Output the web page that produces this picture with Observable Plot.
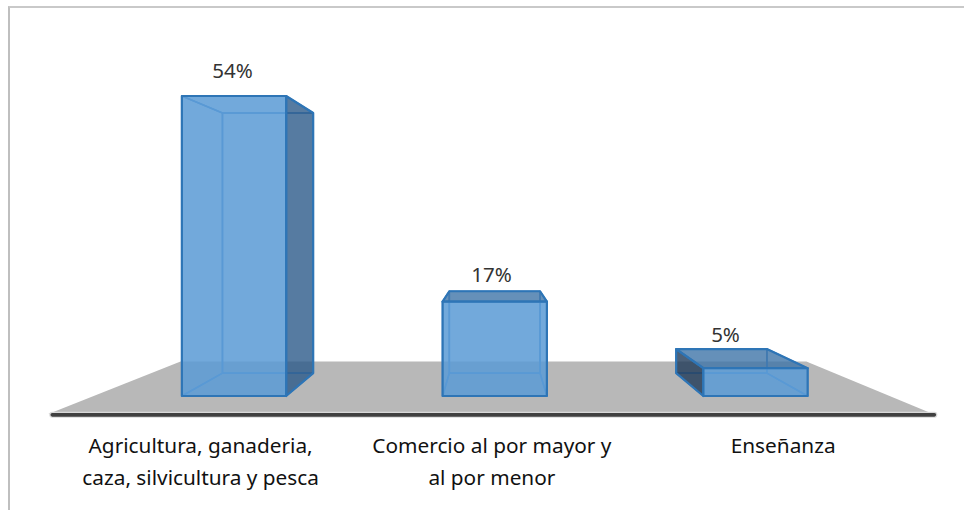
<!DOCTYPE html>
<html>
<head>
<meta charset="utf-8">
<script src="https://cdn.jsdelivr.net/npm/d3@7"></script>
<script src="https://cdn.jsdelivr.net/npm/@observablehq/plot@0.6"></script>
<style>
  html, body { margin: 0; padding: 0; background: #fff; }
  #wrap { position: relative; width: 964px; height: 510px; overflow: hidden; }
  #frame { position: absolute; left: 8px; top: 6px; right: 0; bottom: 0;
           border-left: 2px solid #bfbfbf; border-top: 2px solid #c9c9c9; }
  #chart { position: absolute; left: 0; top: 0; }
  #chart svg { background: transparent !important; display: block; }
</style>
</head>
<body>
<div id="wrap"><div id="frame"></div><div id="chart"></div></div>
<script>
const categories = ["Agricultura, ganaderia,\ncaza, silvicultura y pesca", "Comercio al por mayor y\nal por menor", "Enseñanza"];
const values = [54, 17, 5];
const valueLabels = ["54%", "17%", "5%"];
const labelLift = [4.5, 4.7, 5.9];
const labelShift = [-0.006, -0.012, -0.115];
const categoryLabelAt = [-0.128, -0.011, 0.106];

const halfWidth = 0.2;
const vanishX = 0.998, vanishY = 30.96, depthX = 0.87, depthY = 0.867;
const floorLevel = -3.24, floorBack = 6.2;
const floorX = [-0.712, 2.681, 2.195, -0.205];

const backU = u => vanishX + (u - vanishX) * depthX;
const backV = v => vanishY + (v - vanishY) * depthY;

const front = [], back = [], bottoms = [], sides = [], darks = [];
function face(list, id, pts, extra = {}) {
  pts.forEach(([x, y]) => list.push({id, x, y, ...extra}));
}
values.forEach((v, i) => {
  const l = i - halfWidth, r = i + halfWidth;
  const F = {lb: [l, 0], rb: [r, 0], rt: [r, v], lt: [l, v]};
  const B = {lb: [backU(l), backV(0)], rb: [backU(r), backV(0)], rt: [backU(r), backV(v)], lt: [backU(l), backV(v)]};
  face(front, `f${i}`, [F.lb, F.rb, F.rt, F.lt]);
  face(back, `b${i}`, [B.lb, B.rb, B.rt, B.lt]);
  const right = [F.rb, F.rt, B.rt, B.rb];
  const left = [F.lb, F.lt, B.lt, B.lb];
  const top = [F.lt, F.rt, B.rt, B.lt];
  const bottom = [F.lb, F.rb, B.rb, B.lb];
  // Faces turned towards the viewer are dark; others are only see-through edges.
  if (backU(r) > r) face(darks, `r${i}`, right, {fill: "#2c5a8a"}); else face(sides, `r${i}`, right);
  if (backU(l) < l) face(darks, `l${i}`, left, {fill: "#1f3a57"}); else face(sides, `l${i}`, left);
  if (backV(v) > v) face(darks, `t${i}`, top, {fill: "#3f74a8"}); else face(sides, `t${i}`, top);
  face(bottoms, `u${i}`, bottom);
});

const floor = [
  {x: floorX[0], y: floorLevel}, {x: floorX[1], y: floorLevel},
  {x: floorX[2], y: floorBack}, {x: floorX[3], y: floorBack}
];
const axisLine = [{x: -0.697, y: floorLevel - 0.15}, {x: 2.686, y: floorLevel - 0.15}];

const labelFont = "'Noto Sans', 'Open Sans', sans-serif";
const closed = {x: "x", y: "y", z: "id", curve: "linear-closed", strokeLinejoin: "round"};

const plot = Plot.plot({
  width: 964, height: 510,
  margin: 0,
  style: {background: "transparent", fontFamily: labelFont},
  x: {type: "linear", domain: [0, 2], range: [233.5, 755], axis: null},
  y: {type: "linear", domain: [0, 54], range: [395.5, 95.5], axis: null},
  marks: [
    Plot.line(floor, {x: "x", y: "y", curve: "linear-closed", fill: "#b8b8b8", stroke: "none"}),
    Plot.line(axisLine, {x: "x", y: "y", stroke: "#d9d9d9", strokeWidth: 6, strokeLinecap: "round"}),
    Plot.line(axisLine, {x: "x", y: "y", stroke: "#404040", strokeWidth: 3.6, strokeLinecap: "round"}),
    Plot.line(back, {...closed, fill: "none", stroke: "#4f90d0", strokeWidth: 1.6}),
    Plot.line(sides, {...closed, fill: "none", stroke: "#4f90d0", strokeWidth: 1.6}),
    Plot.line(bottoms, {...closed, fill: "none", stroke: "#4f90d0", strokeWidth: 1.6}),
    Plot.line(darks, {...closed, fill: "fill", fillOpacity: 0.8, stroke: "#2e75b6", strokeWidth: 2.2}),
    Plot.line(front, {...closed, fill: "#5b9bd5", fillOpacity: 0.86, stroke: "#2e75b6", strokeWidth: 2.2}),
    Plot.text(values.map((v, i) => ({v, i})), {
      x: d => d.i + labelShift[d.i],
      y: d => d.v + labelLift[d.i],
      text: d => valueLabels[d.i],
      fontSize: 20.5, fill: "#333", fontFamily: labelFont
    }),
    Plot.text(categories.map((c, i) => ({c, i})), {
      x: d => d.i + categoryLabelAt[d.i],
      y: floorLevel,
      text: "c", dy: 16, lineAnchor: "top",
      lineHeight: 1.54,
      fontSize: 20.8, fill: "#111", fontFamily: labelFont
    })
  ]
});
document.getElementById("chart").appendChild(plot);
</script>
</body>
</html>
